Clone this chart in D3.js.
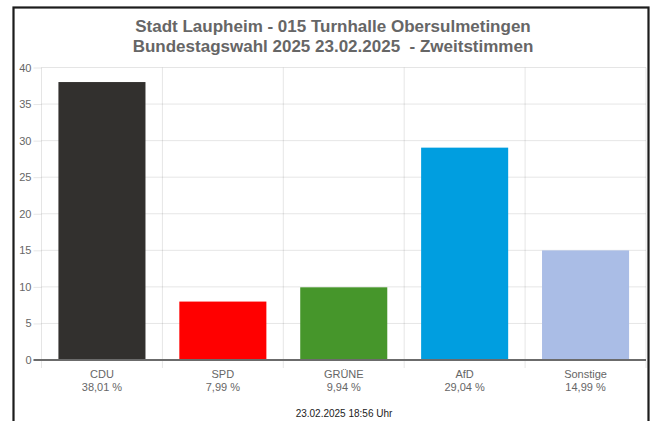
<!DOCTYPE html>
<html>
<head>
<meta charset="utf-8">
<script src="https://cdn.jsdelivr.net/npm/d3@7"></script>
<style>
  body { margin: 0; background: #fff; }
  svg text { font-family: "Liberation Sans", Arial, sans-serif; }
</style>
</head>
<body>
<svg id="chart"></svg>
<script>
// chart data
const titleLines = ["Stadt Laupheim - 015 Turnhalle Obersulmetingen", "Bundestagswahl 2025 23.02.2025  - Zweitstimmen"];
const parties = ["CDU", "SPD", "GRÜNE", "AfD", "Sonstige"];
const shares = [38.01, 7.99, 9.94, 29.04, 14.99];
const partyColors = ["#32302e", "#ff0000", "#46962b", "#009ee0", "#aabde6"];
const yTicks = [0, 5, 10, 15, 20, 25, 30, 35, 40];
const footer = "23.02.2025 18:56 Uhr";

const W = 657, H = 421;
const margin = {top: 67.5, right: 11, bottom: 61, left: 41.5};
const width = W - margin.left - margin.right;
const height = H - margin.top - margin.bottom;

const svg = d3.select("#chart").attr("width", W).attr("height", H);

// frame
svg.append("rect")
  .attr("x", 13.5).attr("y", 7.5)
  .attr("width", 635).attr("height", 430)
  .attr("fill", "none")
  .attr("stroke", "#1c1c1c")
  .attr("stroke-width", 2.2);

// title (keeps the double space)
svg.append("g").selectAll("text")
  .data(titleLines)
  .join("text")
  .attr("x", 333)
  .attr("y", (d, i) => 32 + i * 20)
  .attr("text-anchor", "middle")
  .style("font-size", "17px")
  .style("font-weight", "bold")
  .style("white-space", "pre")
  .attr("fill", "#666")
  .text(d => d);

const chart = svg.append("g")
  .attr("transform", `translate(${margin.left},${margin.top})`);

const y = d3.scaleLinear().domain([0, 40]).range([height, 0]);
const xCat = d3.scaleBand().domain(parties).range([0, width]).padding(0);
const xBar = d3.scaleBand().domain(parties).range([0, width])
  .paddingInner(0.28).paddingOuter(0.14);

// horizontal grid + y axis
const yAxis = d3.axisLeft(y).tickValues(yTicks).tickSize(8).tickPadding(2);
const yAxisG = chart.append("g").attr("class", "y-axis").call(yAxis);
yAxisG.select(".domain").remove();
yAxisG.selectAll(".tick line").attr("stroke", "rgba(0,0,0,0.1)");
yAxisG.selectAll(".tick text")
  .attr("fill", "#666")
  .style("font-size", "11px")
  .style("font-family", "'Liberation Sans', Arial, sans-serif");

chart.append("g").selectAll("line")
  .data(yTicks.filter(d => d !== 0))
  .join("line")
  .attr("x1", 0).attr("x2", width)
  .attr("y1", d => y(d)).attr("y2", d => y(d))
  .attr("stroke", "rgba(0,0,0,0.1)");

// vertical grid at category boundaries
const bounds = parties.map(d => xCat(d)).concat([width]);
chart.append("g").selectAll("line")
  .data(bounds)
  .join("line")
  .attr("x1", d => d).attr("x2", d => d)
  .attr("y1", 0).attr("y2", height + 8)
  .attr("stroke", "rgba(0,0,0,0.1)");

// bars
chart.append("g").selectAll("rect")
  .data(parties)
  .join("rect")
  .attr("x", d => xBar(d))
  .attr("y", (d, i) => y(shares[i]))
  .attr("width", xBar.bandwidth())
  .attr("height", (d, i) => y(0) - y(shares[i]))
  .attr("fill", (d, i) => partyColors[i]);

// zero line
chart.append("line")
  .attr("x1", -8).attr("x2", width)
  .attr("y1", y(0)).attr("y2", y(0))
  .attr("stroke", "#6b6b6b")
  .attr("stroke-width", 2);

// x labels
const xLabels = chart.append("g").selectAll("g")
  .data(parties)
  .join("g")
  .attr("transform", d => `translate(${xCat(d) + xCat.bandwidth() / 2},${height})`);

xLabels.append("text")
  .attr("y", 18)
  .attr("text-anchor", "middle")
  .attr("fill", "#666")
  .style("font-size", "11px")
  .text(d => d);

xLabels.append("text")
  .attr("y", 31)
  .attr("text-anchor", "middle")
  .attr("fill", "#666")
  .style("font-size", "11px")
  .text((d, i) => shares[i].toFixed(2).replace(".", ",") + " %");

// footer
svg.append("text")
  .attr("x", 344)
  .attr("y", 417)
  .attr("text-anchor", "middle")
  .attr("fill", "#222")
  .style("font-size", "10px")
  .text(footer);
</script>
</body>
</html>
